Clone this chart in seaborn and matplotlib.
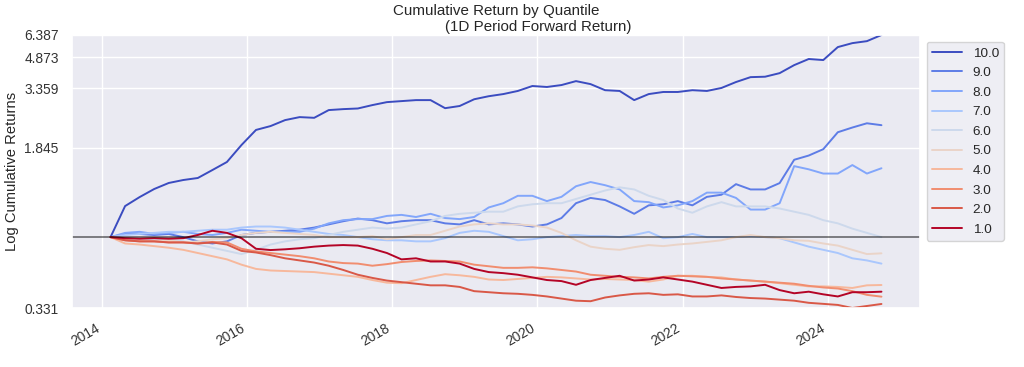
import numpy as np
import pandas as pd
import matplotlib
matplotlib.use("Agg")
import matplotlib.pyplot as plt
import matplotlib.dates as mdates
from matplotlib.ticker import FixedLocator, FormatStrFormatter, NullLocator
import seaborn as sns

# ---------------- data ----------------
start_date = "2014-02-14"
end_date = "2024-09-27"
n_points = 54

quantile_labels = ["10.0", "9.0", "8.0", "7.0", "6.0", "5.0", "4.0", "3.0", "2.0", "1.0"]

q10 = [1.0, 1.293, 1.378, 1.454, 1.511, 1.539, 1.558, 1.633, 1.709, 1.869,
       2.03, 2.127, 2.286, 2.37, 2.35, 2.58, 2.61, 2.63, 2.74, 2.84,
       2.875, 2.91, 2.91, 2.64, 2.71, 2.94, 3.05, 3.13, 3.25, 3.45,
       3.41, 3.49, 3.66, 3.53, 3.28, 3.25, 2.91, 3.13, 3.21, 3.21,
       3.28, 3.25, 3.37, 3.62, 3.84, 3.86, 4.03, 4.44, 4.78, 4.72,
       5.52, 5.79, 5.93, 6.387]
q9 = [1.0, 1.03, 1.03, 1.02, 1.03, 1.0, 0.96, 0.94, 0.96, 1.02,
      1.04, 1.05, 1.06, 1.07, 1.09, 1.12, 1.15, 1.175, 1.16, 1.13,
      1.15, 1.16, 1.16, 1.13, 1.12, 1.16, 1.12, 1.13, 1.12, 1.10,
      1.12, 1.18, 1.32, 1.37, 1.35, 1.29, 1.22, 1.30, 1.31, 1.34,
      1.30, 1.38, 1.40, 1.50, 1.45, 1.45, 1.51, 1.73, 1.77, 1.83,
      1.99, 2.09, 2.20, 2.15]
q8 = [1.0, 1.04, 1.05, 1.03, 1.04, 1.05, 1.03, 1.02, 1.04, 1.07,
      1.06, 1.05, 1.05, 1.05, 1.08, 1.13, 1.16, 1.17, 1.17, 1.20,
      1.21, 1.19, 1.22, 1.18, 1.17, 1.19, 1.28, 1.32, 1.39, 1.39,
      1.34, 1.38, 1.48, 1.52, 1.49, 1.45, 1.34, 1.33, 1.28, 1.30,
      1.34, 1.42, 1.42, 1.37, 1.26, 1.26, 1.32, 1.67, 1.64, 1.60,
      1.60, 1.68, 1.60, 1.65]
q7 = [1.0, 1.02, 1.03, 1.04, 1.05, 1.05, 1.06, 1.07, 1.07, 1.09,
      1.10, 1.10, 1.09, 1.07, 1.05, 1.03, 1.02, 1.0, 0.98, 0.97,
      0.97, 0.96, 0.96, 0.99, 1.04, 1.06, 1.05, 1.01, 0.97, 0.98,
      1.0, 1.01, 1.02, 1.01, 1.01, 1.0, 1.02, 1.05, 0.99, 1.0,
      1.03, 1.0, 1.0, 1.0, 1.01, 1.0, 0.99, 0.95, 0.91, 0.88,
      0.85, 0.80, 0.78, 0.75]
q6 = [1.0, 0.99, 0.98, 0.97, 0.98, 0.96, 0.93, 0.90, 0.87, 0.84,
      0.88, 0.93, 0.96, 0.98, 0.99, 1.02, 1.05, 1.07, 1.09, 1.08,
      1.09, 1.12, 1.15, 1.20, 1.22, 1.23, 1.24, 1.24, 1.29, 1.31,
      1.32, 1.32, 1.36, 1.40, 1.44, 1.47, 1.45, 1.39, 1.35, 1.27,
      1.23, 1.29, 1.33, 1.29, 1.29, 1.29, 1.27, 1.24, 1.21, 1.16,
      1.13, 1.08, 1.04, 1.0]
q5 = [1.0, 0.98, 0.97, 0.96, 0.97, 0.95, 0.96, 0.98, 0.99, 1.02,
      1.04, 1.05, 1.04, 1.03, 1.02, 1.0, 1.0, 1.0, 1.01, 0.98,
      1.0, 1.02, 1.02, 1.06, 1.10, 1.12, 1.13, 1.12, 1.12, 1.11,
      1.09, 1.04, 0.97, 0.91, 0.89, 0.88, 0.905, 0.925, 0.915, 0.93,
      0.94, 0.955, 0.97, 1.0, 1.02, 1.0, 0.99, 0.97, 0.965, 0.94,
      0.92, 0.88, 0.84, 0.847]
q4 = [1.0, 0.94, 0.93, 0.915, 0.90, 0.88, 0.85, 0.82, 0.79, 0.74,
      0.70, 0.685, 0.68, 0.675, 0.67, 0.655, 0.64, 0.625, 0.595, 0.57,
      0.565, 0.595, 0.625, 0.65, 0.64, 0.625, 0.60, 0.595, 0.605, 0.615,
      0.625, 0.62, 0.61, 0.60, 0.605, 0.60, 0.595, 0.58, 0.60, 0.635,
      0.635, 0.625, 0.62, 0.60, 0.59, 0.58, 0.565, 0.55, 0.535, 0.535,
      0.53, 0.52, 0.545, 0.548]
q3 = [1.0, 0.97, 0.96, 0.96, 0.95, 0.95, 0.94, 0.955, 0.95, 0.89,
      0.865, 0.85, 0.835, 0.82, 0.80, 0.77, 0.755, 0.75, 0.73, 0.745,
      0.765, 0.775, 0.78, 0.775, 0.77, 0.74, 0.725, 0.71, 0.71, 0.715,
      0.705, 0.69, 0.675, 0.645, 0.635, 0.625, 0.62, 0.61, 0.625, 0.635,
      0.63, 0.625, 0.61, 0.60, 0.59, 0.58, 0.57, 0.56, 0.54, 0.525,
      0.515, 0.49, 0.455, 0.438]
q2 = [1.0, 0.97, 0.96, 0.96, 0.95, 0.95, 0.94, 0.95, 0.93, 0.87,
      0.855, 0.83, 0.80, 0.78, 0.76, 0.73, 0.69, 0.645, 0.615, 0.59,
      0.575, 0.56, 0.545, 0.545, 0.53, 0.49, 0.48, 0.47, 0.465, 0.455,
      0.44, 0.42, 0.40, 0.395, 0.43, 0.45, 0.465, 0.47, 0.455, 0.46,
      0.44, 0.44, 0.45, 0.435, 0.425, 0.42, 0.41, 0.40, 0.38, 0.37,
      0.36, 0.331, 0.35, 0.369]
q1 = [1.0, 0.99, 0.985, 0.99, 0.985, 0.99, 1.02, 1.06, 1.04, 0.99,
      0.89, 0.878, 0.885, 0.895, 0.91, 0.92, 0.925, 0.92, 0.89, 0.85,
      0.79, 0.80, 0.77, 0.77, 0.75, 0.70, 0.67, 0.66, 0.645, 0.62,
      0.595, 0.585, 0.55, 0.595, 0.615, 0.635, 0.59, 0.60, 0.62, 0.60,
      0.58, 0.55, 0.52, 0.53, 0.535, 0.55, 0.50, 0.47, 0.485, 0.46,
      0.44, 0.48, 0.48, 0.485]

period = "1D"
y_label = "Log Cumulative Returns"

# ---------------- build table ----------------
dates = pd.date_range(start_date, end_date, periods=n_points)
wide = pd.DataFrame(
    dict(zip(quantile_labels, [q10, q9, q8, q7, q6, q5, q4, q3, q2, q1])),
    index=dates,
)
wide.index.name = "date"
long = wide.reset_index().melt(id_vars="date", var_name="quantile", value_name="cum_ret")

# ---------------- style ----------------
sns.set_theme(style="darkgrid")
plt.rcParams["font.family"] = ["Liberation Sans", "DejaVu Sans"]

cmap = plt.get_cmap("coolwarm")
palette = {q: cmap(v) for q, v in zip(quantile_labels, np.linspace(0, 1, len(quantile_labels)))}

fig = plt.figure(figsize=(10.24, 3.67), dpi=100)
ax = fig.add_axes([72 / 1024, 1 - 308 / 367, (920 - 72) / 1024, (308 - 35) / 367])

sns.lineplot(data=long, x="date", y="cum_ret", hue="quantile", hue_order=quantile_labels,
             palette=palette, linewidth=1.4, ax=ax)

ymin, ymax = long["cum_ret"].min(), long["cum_ret"].max()
ax.set_yscale("symlog", linthresh=2)
ax.set_ylim(ymin, ymax)
ax.yaxis.set_major_locator(FixedLocator(np.linspace(ymin, ymax, 5)))
ax.yaxis.set_major_formatter(FormatStrFormatter("%.3f"))
ax.yaxis.set_minor_locator(NullLocator())

ax.axhline(1.0, linestyle="-", color="black", lw=1.1, alpha=0.6)

ax.xaxis.set_major_locator(mdates.YearLocator(2))
ax.xaxis.set_major_formatter(mdates.DateFormatter("%Y"))
for lbl in ax.get_xticklabels():
    lbl.set_rotation(30)
    lbl.set_ha("right")
ax.tick_params(axis="both", labelsize=9.9, colors="#333333")

ax.set_xlabel("")
ax.set_ylabel(y_label, fontsize=10.6, color="#262626")
ax.set_title("Cumulative Return by Quantile\n" + " " * 20 + "({} Period Forward Return)".format(period),
             fontsize=10.9, pad=3, color="#262626")

handles, labels = ax.get_legend_handles_labels()
ax.legend(handles, labels, loc="upper left", bbox_to_anchor=(1, 1), fontsize=9.7,
          handlelength=2.2, labelspacing=0.53)

fig.savefig("out.png", dpi=100)
